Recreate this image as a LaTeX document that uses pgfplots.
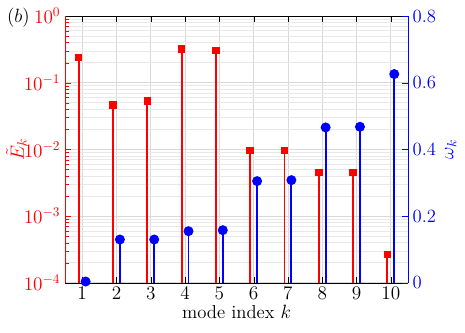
\documentclass[border=0pt]{standalone}
\usepackage{pgfplots}
\pgfplotsset{compat=1.18}
\definecolor{stemred}{RGB}{255,0,0}
\definecolor{stemblue}{RGB}{0,0,255}
\begin{document}
\begin{tikzpicture}[font=\fontsize{14}{16}\selectfont]
  % energy fraction per mode (log, left)
  \begin{axis}[
    name=ax,
    scale only axis, width=257pt, height=200pt,
    clip mode=individual,
    xmin=0.5, xmax=10.5,
    ymin=1e-4, ymax=1,
    ymode=log, log origin y=infty,
    xtick={1,...,10},
    axis y line*=left,
    grid=both,
    major grid style={gray!30, line width=0.6pt},
    minor grid style={gray!18, line width=0.5pt},
    y axis line style={stemred},
    ytick style={stemred},
    yticklabel style={stemred},
    xtick style={black},
    xlabel={mode index $k$},
    ylabel={$\tilde{E}_k$},
    ylabel style={stemred, yshift=-9pt},
    xlabel style={yshift=3pt},
  ]
    \addplot[ycomb, stemred, line width=1.4pt, mark=square*, mark size=2.1pt,
      mark options={solid}] coordinates {
      (0.9,0.24) (1.9,0.046) (2.9,0.053) (3.9,0.32) (4.9,0.305)
      (5.9,0.0097) (6.9,0.0097) (7.9,0.0045) (8.9,0.0045) (9.9,0.000265)
    };
    \node[anchor=center] at (rel axis cs:0,1) [xshift=-35pt, yshift=-1pt] {$(b)$};
  \end{axis}
  % frequency per mode (linear, right)
  \begin{axis}[
    scale only axis, width=257pt, height=200pt,
    xmin=0.5, xmax=10.5,
    ymin=0, ymax=0.8,
    ytick={0,0.2,0.4,0.6,0.8},
    yticklabels={0,0.2,0.4,0.6,0.8},
    axis y line*=right,
    axis x line=none,
    y axis line style={stemblue},
    ytick style={stemblue},
    yticklabel style={stemblue},
    ylabel={$\omega_k$},
    ylabel style={stemblue},
  ]
    \addplot[ycomb, stemblue, line width=1.4pt, mark=*, mark size=3pt] coordinates {
      (1.1,0.004) (2.1,0.130) (3.1,0.130) (4.1,0.155) (5.1,0.158)
      (6.1,0.305) (7.1,0.308) (8.1,0.466) (9.1,0.468) (10.1,0.626)
    };
  \end{axis}
  \pgfresetboundingbox
  \path ([shift={(-48.75pt,-37.5pt)}]ax.south west)
    rectangle ([shift={(42.75pt,12pt)}]ax.north east);
\end{tikzpicture}
\end{document}
